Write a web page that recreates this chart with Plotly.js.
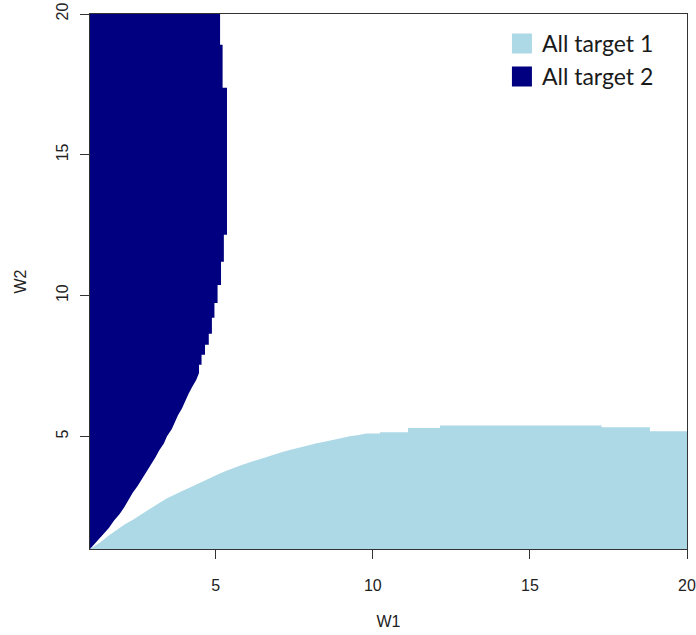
<!DOCTYPE html>
<html>
<head>
<meta charset="utf-8">
<script src="https://cdn.plot.ly/plotly-3.0.1.min.js"></script>
<style>html,body{margin:0;padding:0;background:#fff;}#chart{width:696px;height:635px;}</style>
</head>
<body>
<div id="chart"></div>
<script>
// Series names
const seriesNames = ["All target 1", "All target 2"];
const seriesColors = ["#ADD8E6", "#000080"];

// All target 1: outline vertices of the upper edge (W1, W2)
const target1W1 = [1.0, 1.32, 1.6, 1.85, 2.1, 2.38, 2.65, 2.91, 3.18, 3.44, 3.7, 3.97, 4.25, 4.5, 4.77, 5.03, 5.3, 5.56, 5.83, 6.09, 6.36, 6.62, 6.9, 7.15, 7.42, 7.68, 7.95, 8.22, 8.5, 8.74, 9.0, 9.27, 9.55, 9.8, 10.23, 10.23, 11.12, 11.12, 12.14, 12.14, 17.28, 17.28, 18.82, 18.82, 20.0];
const target1W2 = [1.0, 1.23, 1.48, 1.69, 1.87, 2.05, 2.25, 2.44, 2.62, 2.79, 2.94, 3.08, 3.22, 3.36, 3.5, 3.63, 3.76, 3.88, 3.98, 4.08, 4.18, 4.27, 4.36, 4.45, 4.53, 4.61, 4.69, 4.76, 4.82, 4.88, 4.94, 5.0, 5.05, 5.1, 5.1, 5.15, 5.15, 5.3, 5.3, 5.39, 5.39, 5.32, 5.32, 5.18, 5.18];

// All target 2: outline vertices of the right edge (W1, W2)
const target2W1 = [1.0, 1.2, 1.42, 1.6, 1.76, 1.95, 2.1, 2.22, 2.36, 2.52, 2.66, 2.8, 2.95, 3.08, 3.2, 3.35, 3.45, 3.6, 3.7, 3.8, 3.93, 4.02, 4.13, 4.25, 4.38, 4.47, 4.47, 4.55, 4.55, 4.66, 4.66, 4.78, 4.78, 4.88, 4.88, 4.96, 4.96, 5.06, 5.06, 5.17, 5.17, 5.26, 5.26, 5.36, 5.36, 5.22, 5.22, 5.14, 5.14];
const target2W2 = [1.0, 1.25, 1.5, 1.75, 2.0, 2.25, 2.5, 2.75, 3.0, 3.25, 3.5, 3.75, 4.0, 4.25, 4.5, 4.75, 5.0, 5.25, 5.5, 5.75, 6.0, 6.25, 6.5, 6.75, 7.0, 7.25, 7.54, 7.54, 7.9, 7.9, 8.25, 8.25, 8.64, 8.64, 9.21, 9.21, 9.74, 9.74, 10.38, 10.38, 11.2, 11.2, 12.16, 12.16, 17.38, 17.38, 18.91, 18.91, 20.0];

// Axis settings
const axisMin = 1, axisMax = 20;
const tickValues = [5, 10, 15, 20];
const tickLabels = ["5", "10", "15", "20"];

// Build closed polygons (close along the axes)
const t1x = target1W1.concat([axisMax]);
const t1y = target1W2.concat([axisMin]);
const t2x = target2W1.concat([axisMin]);
const t2y = target2W2.concat([axisMax]);

const tickFont = {family: "Liberation Sans, Arial, sans-serif", size: 16, color: "#222"};

const traces = [
  {x: t1x, y: t1y, type: "scatter", mode: "lines", fill: "toself",
   fillcolor: seriesColors[0], line: {width: 0, color: seriesColors[0]},
   showlegend: false, hoverinfo: "skip"},
  {x: t2x, y: t2y, type: "scatter", mode: "lines", fill: "toself",
   fillcolor: seriesColors[1], line: {width: 0, color: seriesColors[1]},
   showlegend: false, hoverinfo: "skip"},
  {x: [null], y: [null], type: "scatter", mode: "markers", name: seriesNames[0],
   legendgroup: "a", marker: {symbol: "square", size: 16, color: seriesColors[0], line: {width: 4, color: seriesColors[0]}}},
  {x: [null], y: [null], type: "scatter", mode: "markers", name: seriesNames[1],
   legendgroup: "b", marker: {symbol: "square", size: 16, color: seriesColors[1], line: {width: 4, color: seriesColors[1]}}}
];

const axisCommon = {
  range: [axisMin, axisMax], tickmode: "array", tickvals: tickValues, ticktext: tickLabels,
  ticks: "outside", ticklen: 9, tickwidth: 1, tickcolor: "#333",
  showline: true, mirror: true, linecolor: "#333", linewidth: 1,
  showgrid: false, zeroline: false, tickfont: tickFont, automargin: false, fixedrange: true
};

const layout = {
  width: 696, height: 635,
  margin: {l: 90, r: 9, t: 14, b: 86},
  paper_bgcolor: "#fff", plot_bgcolor: "#fff",
  showlegend: true,
  legend: {x: 0.69, y: 0.985, xanchor: "left", yanchor: "top", bgcolor: "rgba(0,0,0,0)",
           font: {family: "Lato, sans-serif", size: 23, color: "#1a1a1a"},
           traceorder: "grouped", tracegroupgap: 0, itemsizing: "trace"},
  xaxis: Object.assign({}, axisCommon, {ticklabelstandoff: 13,
    title: {text: "W1", font: tickFont, standoff: 22}}),
  yaxis: Object.assign({}, axisCommon, {tickangle: -90, ticklabelstandoff: 6,
    title: {text: "W2", font: tickFont, standoff: 22}})
};

Plotly.newPlot("chart", traces, layout, {displayModeBar: false, staticPlot: true});
</script>
</body>
</html>
